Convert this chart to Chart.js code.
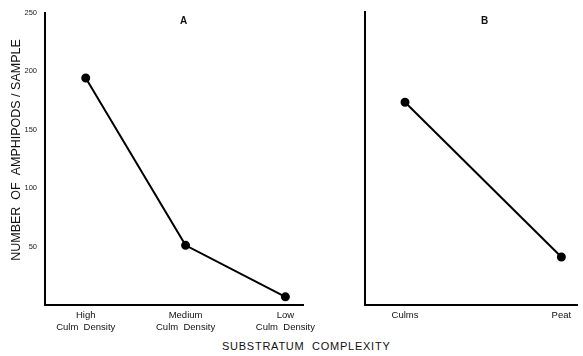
<!DOCTYPE html>
<html>
<head>
<meta charset="utf-8">
<script src="https://cdn.jsdelivr.net/npm/chart.js@4.4.1/dist/chart.umd.min.js"></script>
<style>
  body { margin: 0; background: #fff; width: 583px; height: 356px; position: relative; overflow: hidden; }
  .box { position: absolute; top: 0; height: 340px; }
  .lbl { position: absolute; font-family: "Liberation Sans", Arial, sans-serif; color: #111; white-space: nowrap; }
</style>
</head>
<body>
<div class="box" style="left:0;width:320px"><canvas id="chartA"></canvas></div>
<div class="box" style="left:330px;width:253px"><canvas id="chartB"></canvas></div>
<div class="lbl" style="left:180px;top:15px;font-size:10px;font-weight:bold">A</div>
<div class="lbl" style="left:481px;top:15px;font-size:10px;font-weight:bold">B</div>
<div class="lbl" style="left:222px;top:340px;font-size:11px;letter-spacing:0.75px">SUBSTRATUM&nbsp; COMPLEXITY</div>
<script>
const catsA = [['High', 'Culm  Density'], ['Medium', 'Culm  Density'], ['Low', 'Culm  Density']];
const valsA = [194, 51, 7];
const catsB = ['Culms', 'Peat'];
const valsB = [173, 41];
const yTicks = [50, 100, 150, 200, 250];
const yTitle = 'NUMBER  OF  AMPHIPODS / SAMPLE';

const family = '"Liberation Sans", Arial, sans-serif';

// y-axis title drawn by hand so it can sit a bit above the axis centre like the original
const yTitlePlugin = {
    id: 'yTitle',
    afterDraw(chart) {
        const ctx = chart.ctx;
        ctx.save();
        ctx.translate(17, 150);
        ctx.rotate(-Math.PI / 2);
        ctx.font = '12.5px ' + family;
        ctx.fillStyle = '#111';
        ctx.textAlign = 'center';
        ctx.textBaseline = 'middle';
        ctx.fillText(yTitle, 0, 0);
        ctx.restore();
    }
};

function drawPanel(id, cats, vals, xMin, xMax, yWidth, showY, padRight) {
    const ctx = document.getElementById(id).getContext('2d');
    return new Chart(ctx, {
        type: 'line',
        data: {
            datasets: [{
                data: vals.map((v, i) => ({ x: i, y: v })),
                borderColor: '#000',
                backgroundColor: '#000',
                borderWidth: 2,
                pointRadius: 3.5,
                pointBackgroundColor: '#000',
                tension: 0
            }]
        },
        options: {
            animation: false,
            responsive: true,
            maintainAspectRatio: false,
            layout: { padding: { top: 12, right: padRight, left: 0, bottom: 0 } },
            plugins: { legend: { display: false }, tooltip: { enabled: false } },
            scales: {
                x: {
                    type: 'linear',
                    min: xMin,
                    max: xMax,
                    afterBuildTicks: s => { s.ticks = cats.map((c, i) => ({ value: i })); },
                    afterFit: s => { s.height = 35; },
                    grid: { display: false, drawTicks: false },
                    border: { display: true, color: '#000', width: 2 },
                    ticks: {
                        color: '#111',
                        font: { family: family, size: 9.5, lineHeight: 1.3 },
                        padding: 4,
                        maxRotation: 0,
                        autoSkip: false,
                        callback: v => cats[v]
                    }
                },
                y: {
                    min: 0,
                    max: 250,
                    afterBuildTicks: s => { s.ticks = yTicks.map(v => ({ value: v })); },
                    afterFit: s => { s.width = yWidth; },
                    grid: { display: false, drawTicks: false },
                    border: { display: true, color: '#000', width: 2 },
                    ticks: {
                        display: showY,
                        color: '#222',
                        font: { family: family, size: 7.5 },
                        padding: 8
                    }
                }
            }
        },
        plugins: showY ? [yTitlePlugin] : []
    });
}

drawPanel('chartA', catsA, valsA, -0.408, 2.179, 45, true, 15);
drawPanel('chartB', catsB, valsB, -0.256, 1.1, 35, false, 1);
</script>
</body>
</html>
